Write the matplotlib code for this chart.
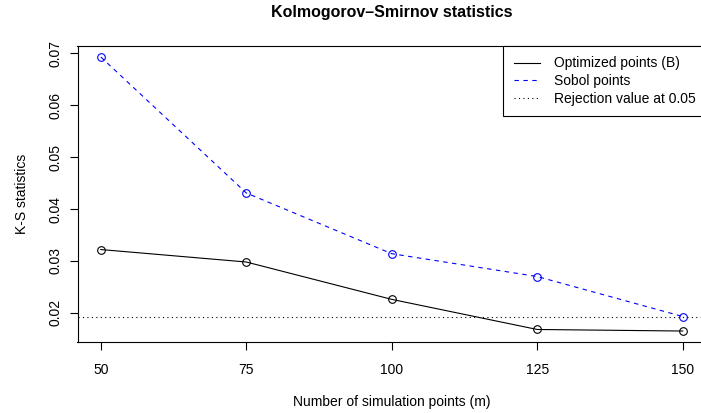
import matplotlib
matplotlib.use("Agg")
import matplotlib.pyplot as plt
from matplotlib.lines import Line2D

plt.rcParams['font.family'] = ['Liberation Sans', 'DejaVu Sans']

# data
m_points = [50, 75, 100, 125, 150]
ks_optimized = [0.0322, 0.0298, 0.0226, 0.0168, 0.0165]
ks_sobol = [0.0693, 0.0431, 0.0314, 0.0270, 0.0193]
rejection_value = 0.0193
x_ticks = [50, 75, 100, 125, 150]
y_ticks = [0.02, 0.03, 0.04, 0.05, 0.06, 0.07]
legend_labels = ['Optimized points (B)', 'Sobol points',
                 'Rejection value at 0.05']

blue = '#0000ff'
dashed = (0, (4, 4))
dotted = (0, (1, 3))

fig = plt.figure(figsize=(7.01, 4.13), dpi=100)
# axes box runs a little past the right edge, like the cropped original
ax = fig.add_axes([77.5 / 701, 71 / 413, (706 - 77.5) / 701, 296 / 413])

ax.plot(m_points, ks_optimized, color='black', lw=0.8, marker='o',
        mfc='none', mec='black', ms=5.5, mew=0.8)
ax.plot(m_points, ks_sobol, color=blue, lw=0.8, ls=dashed,
        marker='o', mfc='none', mec=blue, ms=5.5, mew=0.8)
ax.axhline(rejection_value, color='black', lw=0.8, ls=dotted)

# R style 4% padding
xr = max(m_points) - min(m_points)
ax.set_xlim(min(m_points) - 0.04 * xr, max(m_points) + 0.04 * xr)
all_y = ks_optimized + ks_sobol
yr = max(all_y) - min(all_y)
ax.set_ylim(min(all_y) - 0.04 * yr, max(all_y) + 0.04 * yr)

ax.set_xticks(x_ticks)
ax.set_xticklabels([str(t) for t in x_ticks])
ax.set_yticks(y_ticks)
ax.set_yticklabels(['%.2f' % t for t in y_ticks], rotation=90, va='center')
ax.tick_params(direction='out', length=6, width=0.8, labelsize=10, pad=5)
ax.tick_params(axis='x', pad=9)
for sp in ax.spines.values():
    sp.set_linewidth(0.8)

ax.set_xlabel('Number of simulation points (m)', fontsize=10, labelpad=13)
ax.set_ylabel('K-S statistics', fontsize=10, labelpad=14)
ax.set_title('Kolmogorov\u2013Smirnov statistics', fontsize=11.5,
             fontweight='bold', pad=21)

# legend keys are plain lines, no markers
handles = [Line2D([], [], color='black', lw=0.8),
           Line2D([], [], color=blue, lw=0.8, ls=dashed),
           Line2D([], [], color='black', lw=0.8, ls=dotted)]
leg = ax.legend(handles, legend_labels, loc='upper right',
                bbox_to_anchor=(1, 1), borderaxespad=0,
                fancybox=False, edgecolor='black', framealpha=1,
                fontsize=10, handlelength=1.9, handletextpad=1.0,
                labelspacing=0.26, borderpad=0.75)
leg.get_frame().set_linewidth(0.8)

fig.savefig('out.png', dpi=100)
